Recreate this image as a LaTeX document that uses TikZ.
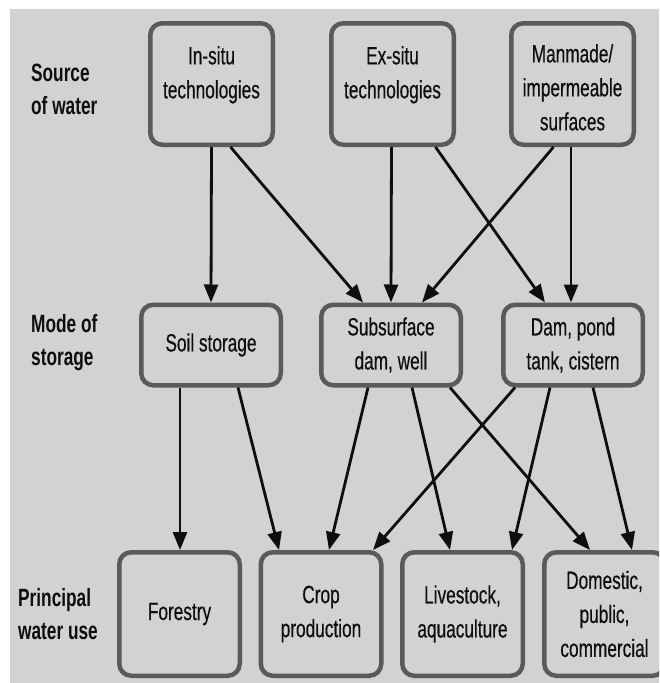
\documentclass[tikz,border=0pt]{standalone}
\usepackage{fontspec}
\setmainfont{Liberation Sans}[FakeStretch=0.69, UprightFeatures={FakeBold=0.4}]
\usetikzlibrary{arrows.meta,calc}
\definecolor{bggray}{HTML}{D2D2D2}
\definecolor{boxline}{HTML}{5A5A5A}
\definecolor{ink}{HTML}{0E0E0E}
\tikzset{
  stagebox/.style={draw=boxline, line width=4.5pt, rounded corners=12pt, fill=bggray, inner sep=0pt},
  toprow/.style={stagebox, minimum width=122.5pt, minimum height=121.5pt},
  midrow/.style={stagebox, minimum width=139.5pt, minimum height=80.5pt, align=center, font=\fontsize{25}{34}\selectfont, text=ink},
  botrow/.style={stagebox, minimum width=120.5pt, minimum height=123.5pt, align=center, font=\fontsize{25}{34}\selectfont, text=ink},
  boxtext/.style={anchor=north, inner sep=0pt, align=center, font=\fontsize{25}{34}\selectfont, text=ink},
  rowlabel/.style={anchor=north west, inner sep=0pt, align=left, font=\fontsize{25}{33}\selectfont\bfseries, text=ink},
  flow/.style={draw=ink, line width=2.8pt, -{Triangle[length=18pt,width=14pt]}},
}
\begin{document}
\begin{tikzpicture}[x=1pt,y=-1pt]
\useasboundingbox (0,0) rectangle (659,683);
\fill[white] (0,0) rectangle (659,683);
\fill[bggray] (10,9) rectangle (659,683);
\begin{scope}
\clip (0,0) rectangle (659,683);
% top row
\node[toprow] (insitu) at (211.5,84) {};
\node[toprow] (exsitu) at (392.5,84) {};
\node[toprow] (manmade) at (572.5,84) {};
\node[boxtext] (insitutxt) at (211.5,46) {In-situ\\technologies};
\node[boxtext] (exsitutxt) at (392.5,46) {Ex-situ\\technologies};
\node[boxtext] (manmadetxt) at (572.5,44) {Manmade/\\impermeable\\surfaces};
% middle row
\node[midrow] (soil) at (211,345) {Soil storage};
\node[midrow] (sub) at (391,345) {Subsurface\\dam, well};
\node[midrow] (dam) at (573,345) {Dam, pond\\tank, cistern};
% bottom row
\node[botrow] (forest) at (179.5,614) {Forestry};
\node[botrow] (crop) at (321,614) {Crop\\production};
\node[botrow] (live) at (462.5,614) {Livestock,\\aquaculture};
\node[botrow] (dom) at (604.5,614) {Domestic,\\public,\\commercial};
% row labels
\node[rowlabel] (lab1) at (31,64) {Source\\of water};
\node[rowlabel] (lab2) at (31,314) {Mode of\\storage};
\node[rowlabel] (lab3) at (18,588) {Principal\\water use};
% connectors: source -> storage
\draw[flow] (insitu.south) -- (soil.north);
\draw[flow] ([xshift=19pt]insitu.south) -- ([xshift=-28pt]sub.north);
\draw[flow] ([xshift=-1pt]exsitu.south) -- (sub.north);
\draw[flow] ([xshift=43pt]exsitu.south) -- ([xshift=-28pt]dam.north);
\draw[flow] ([xshift=-19pt]manmade.south) -- ([xshift=31pt]sub.north);
\draw[flow] ([xshift=-1.5pt]manmade.south) -- ([xshift=-2pt]dam.north);
% storage -> use
\draw[flow] ([xshift=-31pt]soil.south) -- ([xshift=0.5pt]forest.north);
\draw[flow] ([xshift=27pt]soil.south) -- ([xshift=-42pt]crop.north);
\draw[flow] ([xshift=-23pt]sub.south) -- ([xshift=8pt]crop.north);
\draw[flow] ([xshift=21pt]sub.south) -- ([xshift=-12.5pt]live.north);
\draw[flow] ([xshift=59pt]sub.south) -- ([xshift=-14.5pt]dom.north);
\draw[flow] ([xshift=-58pt]dam.south) -- ([xshift=52pt]crop.north);
\draw[flow] ([xshift=-23pt]dam.south) -- ([xshift=49.5pt]live.north);
\draw[flow] ([xshift=20pt]dam.south) -- ([xshift=27.5pt]dom.north);
\end{scope}
\end{tikzpicture}
\end{document}
